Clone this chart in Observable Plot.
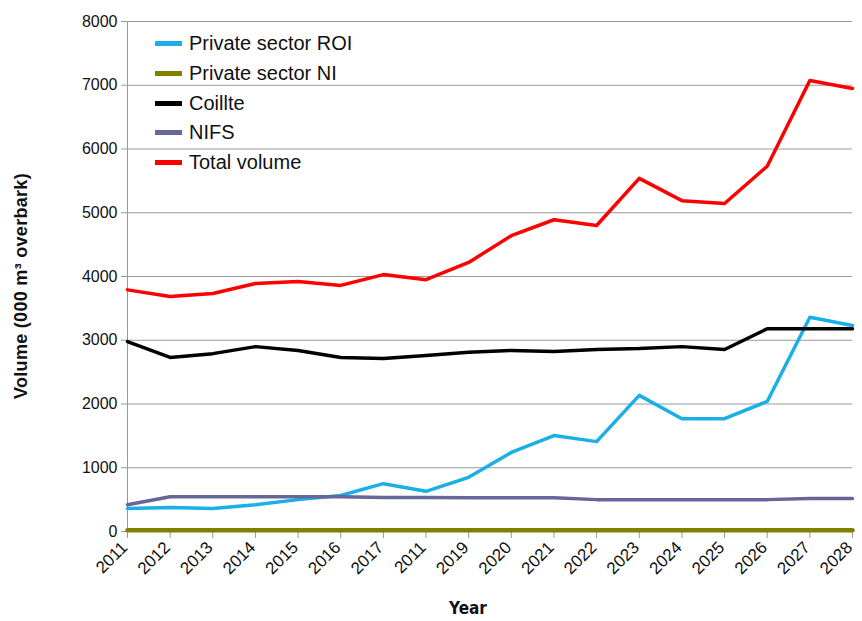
<!DOCTYPE html>
<html>
<head>
<meta charset="utf-8">
<script src="https://cdn.jsdelivr.net/npm/d3@7"></script>
<script src="https://cdn.jsdelivr.net/npm/@observablehq/plot@0.6"></script>
<style>
  html, body { margin: 0; padding: 0; background: #fff; }
  #wrap { position: relative; width: 862px; height: 621px; font-family: "Liberation Sans", Arial, sans-serif; }
  #legend { position: absolute; left: 155px; top: 29px; font-size: 20px; color: #111; }
  .item { display: flex; align-items: center; height: 29.7px; }
  .sw { width: 27px; height: 5px; margin-right: 7px; }
  #ytitle { position: absolute; left: 21px; top: 286px; transform: translate(-50%, -50%) rotate(-90deg); white-space: nowrap; font-weight: bold; font-size: 18px; letter-spacing: 0.3px; color: #111; }
  #xtitle { position: absolute; left: 468px; top: 608px; transform: translate(-50%, -50%); font-family: "DejaVu Sans Condensed", "DejaVu Sans", sans-serif; font-weight: 900; font-size: 17px; color: #111; }
</style>
</head>
<body>
<div id="wrap">
  <div id="chart"></div>
  <div id="legend"></div>
  <div id="ytitle">Volume (000 m³ overbark)</div>
  <div id="xtitle">Year</div>
</div>
<script>
const xLabels = ["2011","2012","2013","2014","2015","2016","2017","2011","2019","2020","2021","2022","2023","2024","2025","2026","2027","2028"];
const seriesNames = ["Private sector ROI","Private sector NI","Coillte","NIFS","Total volume"];
const seriesColors = ["#1AAFE6","#808000","#000000","#666699","#FF0000"];
const privateROI = [360,375,360,420,500,565,750,630,850,1240,1505,1410,2135,1770,1770,2040,3360,3230];
const privateNI  = [20,20,20,20,20,20,20,20,20,20,20,20,20,20,20,20,20,20];
const coillte    = [2980,2730,2790,2900,2840,2730,2715,2760,2810,2840,2825,2855,2870,2900,2855,3180,3180,3180];
const nifs       = [420,545,545,545,545,545,533,533,530,530,530,500,500,500,500,500,518,518];
const total      = [3790,3686,3733,3890,3920,3860,4030,3950,4220,4640,4890,4800,5540,5190,5145,5730,7075,6950];
const yTicks = [0,1000,2000,3000,4000,5000,6000,7000,8000];

const seriesValues = [privateROI, privateNI, coillte, nifs, total];
const widths = [3.5, 4.5, 3.5, 3.5, 3.5];
const xIdx = d3.range(xLabels.length);

const lineMarks = seriesValues.map((vals, k) =>
  Plot.lineY(vals, {x: (d, i) => i, y: d => d, stroke: seriesColors[k], strokeWidth: widths[k]})
);

const chart = Plot.plot({
  width: 862,
  height: 621,
  marginLeft: 127,
  marginRight: 10,
  marginTop: 21,
  marginBottom: 90,
  style: {fontFamily: '"Liberation Sans", Arial, sans-serif', fontSize: "16px", color: "#111", background: "#fff"},
  x: {type: "point", domain: xIdx, padding: 0, round: false},
  y: {domain: [0, 8000]},
  marks: [
    Plot.gridY(yTicks, {stroke: "#999", strokeOpacity: 1}),
    Plot.axisY(yTicks, {tickSize: 6, tickPadding: 4, fontSize: 16, label: null, stroke: "#999", tickFormat: d => String(d)}),
    Plot.axisX(xIdx, {tickSize: 7, tickFormat: () => "", label: null, stroke: "#999"}),
    Plot.text(xIdx, {x: d => d, frameAnchor: "bottom", text: i => xLabels[i], rotate: -45, textAnchor: "end", fontSize: 17, dx: 1, dy: 17, fill: "#111"}),
    Plot.ruleX([0], {stroke: "#999"}),
    Plot.ruleY([0], {stroke: "#999"}),
    ...lineMarks
  ]
});
document.getElementById("chart").appendChild(chart);

const legend = document.getElementById("legend");
seriesNames.forEach((name, k) => {
  const it = document.createElement("div");
  it.className = "item";
  it.innerHTML = `<div class="sw" style="background:${seriesColors[k]}"></div><span>${name}</span>`;
  legend.appendChild(it);
});
</script>
</body>
</html>
